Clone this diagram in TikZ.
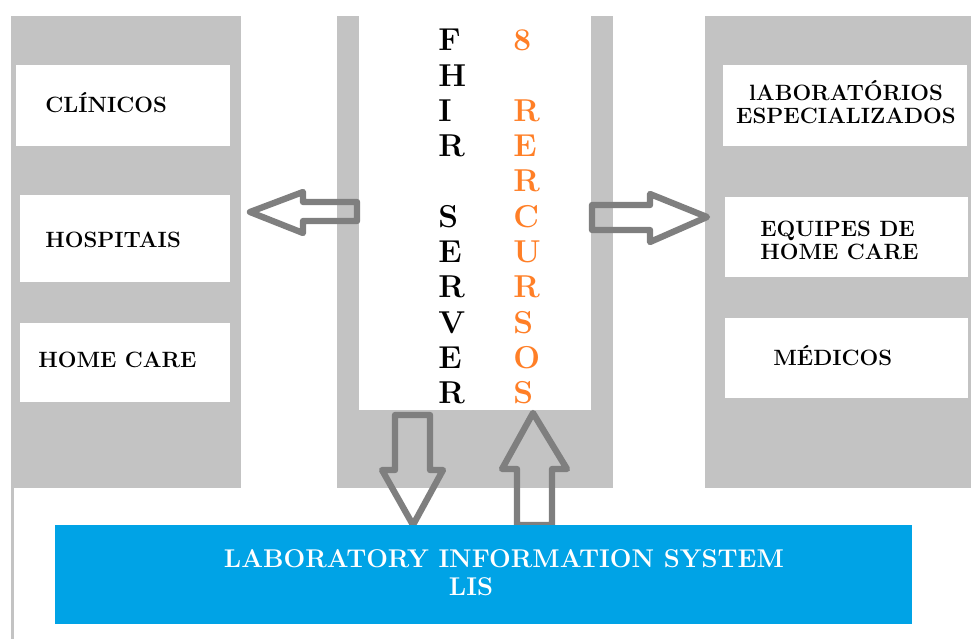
\documentclass[tikz,border=0pt]{standalone}
\usepackage{fontspec}
\usepackage{tikz}

\definecolor{panelgray}{RGB}{195,195,195}
\definecolor{arrowgray}{RGB}{127,127,127}
\definecolor{lisblue}{RGB}{0,163,230}
\definecolor{recorange}{RGB}{255,127,39}

\tikzset{
  panel/.style={fill=panelgray},
  box/.style={fill=white},
  lbl/.style={font=\fontsize{12.6}{13}\selectfont\bfseries, inner sep=0pt},
  fat/.style={draw=arrowgray, line width=3.6pt, line join=round},
  letter/.style={font=\fontsize{18}{18}\selectfont\bfseries, inner sep=0pt, anchor=west},
  listext/.style={font=\fontsize{14.6}{16}\selectfont\bfseries, text=white, inner sep=0pt, anchor=base}
}

\begin{document}
\begin{tikzpicture}[x=0.02cm, y=-0.02cm]
\useasboundingbox (0,0) rectangle (971,639);

\fill[panel] (11,16) rectangle (241,488);
\fill[panel] (337,16) rectangle (613,488);
\fill[panel] (705,16) rectangle (971,488);
\draw[panelgray, line width=1.7pt] (12.5,488) -- (12.5,639);

% left column
\fill[box] (16,65) rectangle (230,146) (45,112) node[lbl, anchor=base west] (clinicos) {CLÍNICOS};
\fill[box] (20,195) rectangle (230,282) (45,247) node[lbl, anchor=base west] (hospitais) {HOSPITAIS};
\fill[box] (20,323) rectangle (230,402) (38,367) node[lbl, anchor=base west] (homecare) {HOME CARE};

% right column
\fill[box] (723,65) rectangle (967,146) (846,102) node[lbl, align=center] (laboratorios) {lABORATÓRIOS\\ESPECIALIZADOS};
\fill[box] (725,197) rectangle (968,277) (760,240) node[lbl, align=left, anchor=west] (equipes) {EQUIPES DE\\HOME CARE};
\fill[box] (725,318) rectangle (968,398) (773,365) node[lbl, anchor=base west] (medicos) {MÉDICOS};

% server in the middle
\fill[box] (359,16) rectangle (591,410);
\foreach \ch [count=\i from 0] in {F,H,I,R,{},S,E,R,V,E,R}
  \node[letter] (fhir\i) at (438,{40+35.3*\i}) {\ch};
\foreach \ch [count=\i from 0] in {8,{},R,E,R,C,U,R,S,O,S}
  \node[letter, text=recorange] (rec\i) at (513,{40+35.3*\i}) {\ch};

% block arrows
\draw[fat] (357,202) -- (303,202) -- (303,192) -- (250,212) -- (303,233) -- (303,221) -- (357,221) -- cycle;
\draw[fat] (592,205) -- (650,205) -- (650,194) -- (707,217) -- (650,242) -- (650,230) -- (592,230) -- cycle;
\draw[fat] (395,415) -- (430,415) -- (430,470) -- (443,470) -- (413,525) -- (382,470) -- (395,470) -- cycle;
\draw[fat] (517,525) -- (552,525) -- (552,469) -- (567,469) -- (533,413) -- (502,469) -- (517,469) -- cycle;

% LIS bar
\fill[lisblue] (55,525) rectangle (912,624);
\node[listext] (lisname) at (504,567) {LABORATORY INFORMATION SYSTEM};
\node[listext] (lisabbr) at (471,595) {LIS};

\end{tikzpicture}
\end{document}
